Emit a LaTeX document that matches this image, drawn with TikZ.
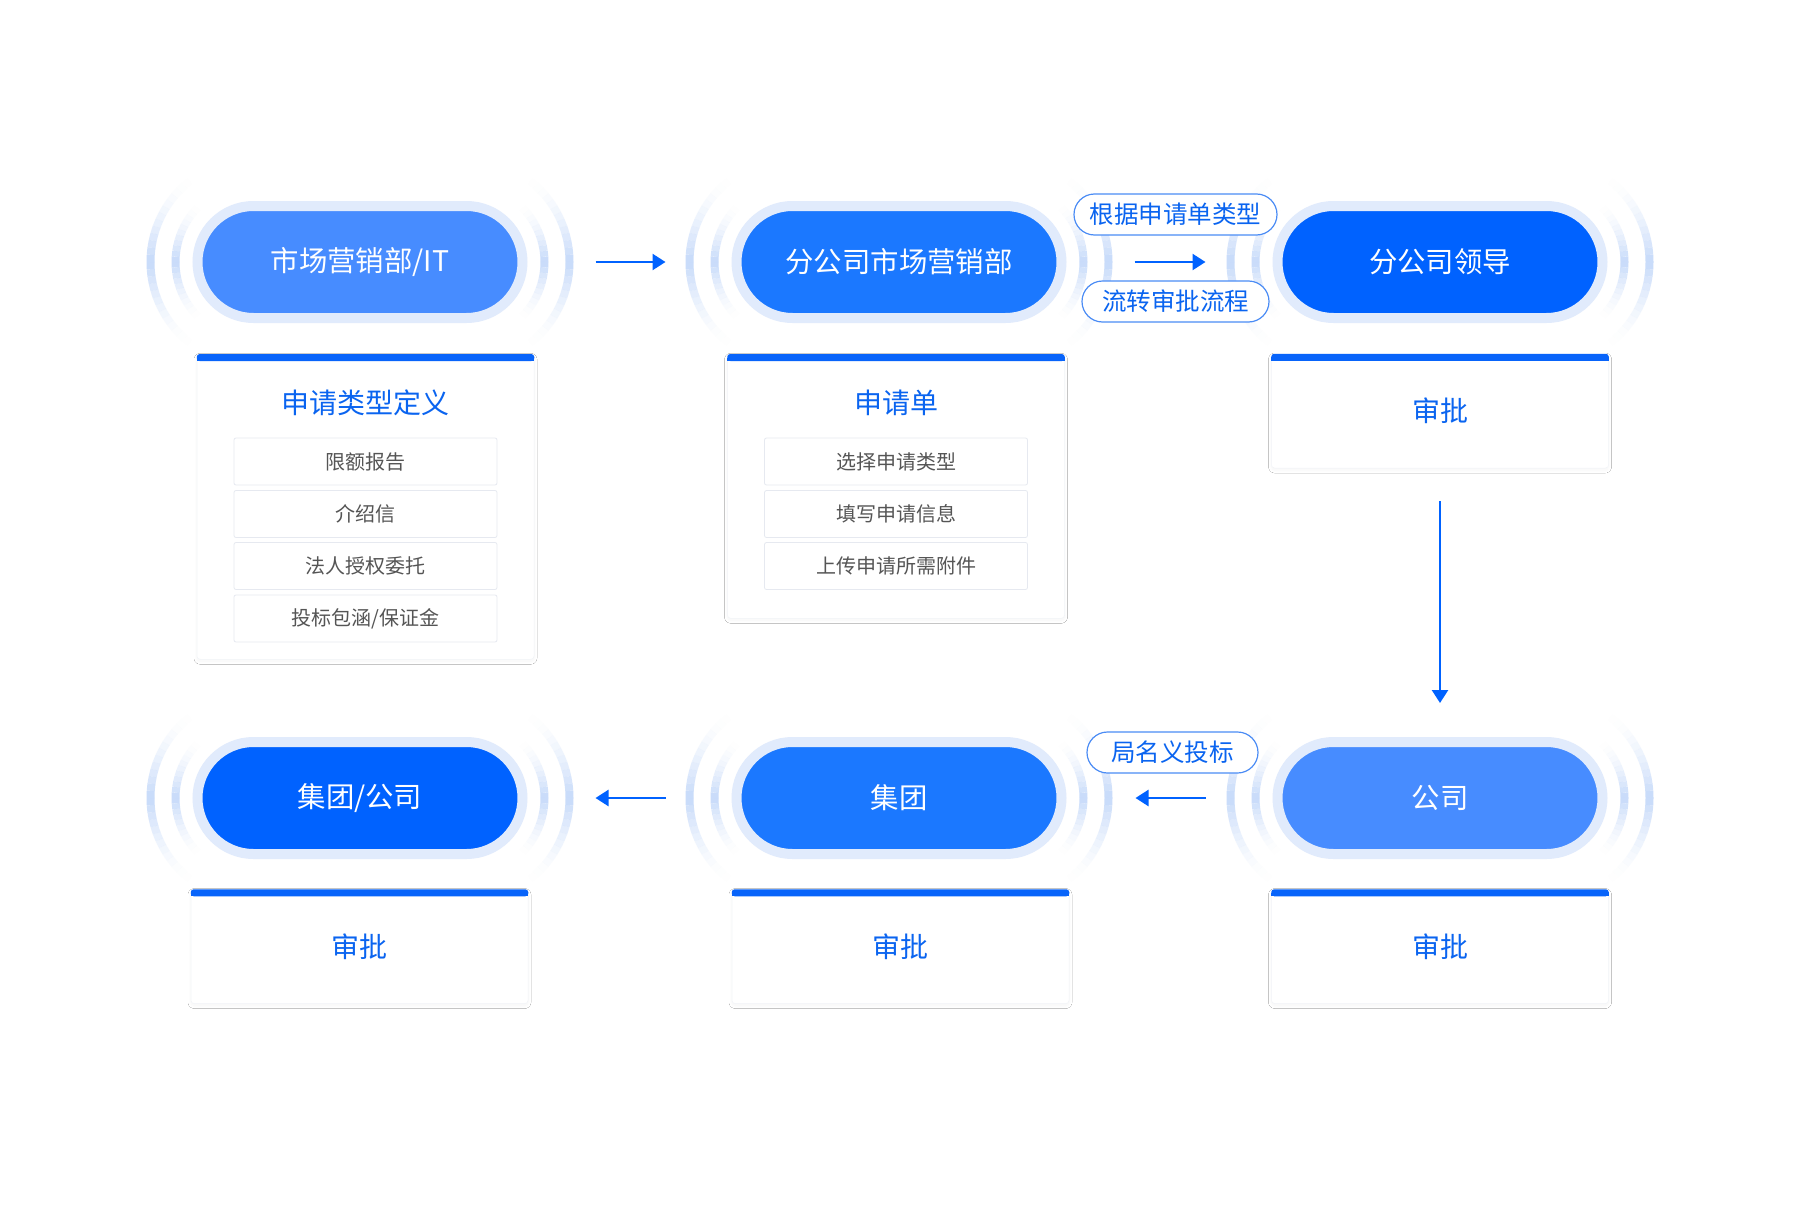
\documentclass[tikz,border=0pt]{standalone}
\usepackage{fontspec}
\newfontfamily\cjk{Noto Sans CJK SC}
\usepackage{xcolor}
\usepackage{tikz}
\usetikzlibrary{arrows.meta,calc,shadows.blur}
\definecolor{halo}{RGB}{225,235,252}
\definecolor{glowc}{RGB}{198,218,250}
\definecolor{lightpill}{RGB}{71,140,255}
\definecolor{midpill}{RGB}{27,120,255}
\definecolor{darkpill}{RGB}{0,98,255}
\definecolor{barblue}{RGB}{8,100,250}
\definecolor{txtblue}{RGB}{10,100,240}
\definecolor{txtgray}{RGB}{85,85,85}
\definecolor{linegray}{RGB}{230,233,240}
\definecolor{tagline}{RGB}{75,140,245}
\newcommand{\pillglow}[1]{%
  \foreach \s/\b in {-1/180,1/0}{%
    \foreach \r/\m in {78/46,103/52}{%
      \foreach \a in {-52,-48,...,48}{%
        \pgfmathsetmacro{\op}{max(0,1-abs(\a+2)/\m)^1.8}%
        \draw[glowc, line width=8pt, opacity=\op]
          ($(#1.center)+(\s*106.5,0)$) ++(\b+\a:\r) arc[start angle=\b+\a, delta angle=4, radius=\r];
      }%
    }%
  }%
}

\begin{document}
\begin{tikzpicture}[x=1pt,y=-1pt,
  pill/.style={rectangle, rounded corners=56pt, minimum width=325pt, minimum height=112pt,
    draw=halo, line width=10pt, text=white, font=\cjk\fontsize{28.4}{33}\selectfont},
  card/.style={rectangle, rounded corners=3pt, fill=white, draw=linegray!50, line width=0.5pt,
    minimum width=337pt, text=txtblue, font=\cjk\fontsize{28}{33}\selectfont,
    blur shadow={shadow xshift=0pt, shadow yshift=-2pt, shadow blur radius=3pt, shadow blur steps=6, shadow opacity=4}},
  cardtitle/.style={text=txtblue, font=\cjk\fontsize{28}{33}\selectfont},
  item/.style={rectangle, rounded corners=2pt, fill=white, draw=linegray, line width=0.8pt,
    minimum width=263pt, minimum height=47pt, text=txtgray, font=\cjk\fontsize{20}{24}\selectfont},
  flowtag/.style={rectangle, rounded corners=20.5pt, fill=white, draw=tagline, line width=1.2pt,
    minimum height=41pt, text=txtblue, font=\cjk\fontsize{24.5}{29}\selectfont},
  flow/.style={draw=darkpill, line width=2.5pt, -{Triangle[length=13pt,width=16pt]}}]
\useasboundingbox[fill=white] (0,0) rectangle (1800,1215);

% top row
\node[pill, fill=lightpill] (p1) at (360,262) {市场营销部/IT};
\node[pill, fill=midpill] (p2) at (899,262) {分公司市场营销部};
\node[pill, fill=darkpill] (p3) at (1440,262) {分公司领导};

% bottom row
\node[pill, fill=darkpill] (p4) at (360,798) {集团/公司};
\node[pill, fill=midpill] (p5) at (899,798) {集团};
\node[pill, fill=lightpill] (p6) at (1440,798) {公司};

\foreach \p in {p1,p2,p3,p4,p5,p6} {\pillglow{\p}}

% cards
\node[card, minimum height=305pt, anchor=north] (c1) at (365.5,354) {};
\node[card, minimum height=264pt, anchor=north] (c2) at (896,354) {};
\node[card, minimum height=114pt] (c3) at (1440,411) {审批};
\node[card, minimum height=114pt] (c4) at (359.5,946.5) {审批};
\node[card, minimum height=114pt] (c5) at (900.5,946.5) {审批};
\node[card, minimum height=114pt] (c6) at (1440,946.5) {审批};
\foreach \i in {1,...,6} {
  \fill[barblue, rounded corners=3pt] (c\i.north west) rectangle ([yshift=-7pt]c\i.north east);
  \fill[barblue] ([yshift=-3.5pt]c\i.north west) rectangle ([yshift=-7pt]c\i.north east);
}

\node[cardtitle] (t1) at (365.5,403) {申请类型定义};
\node[item] (i1a) at (365.5,461.5) {限额报告};
\node[item] (i1b) at (365.5,514) {介绍信};
\node[item] (i1c) at (365.5,566) {法人授权委托};
\node[item] (i1d) at (365.5,618.5) {投标包涵/保证金};

\node[cardtitle] (t2) at (896,403) {申请单};
\node[item] (i2a) at (896,461.5) {选择申请类型};
\node[item] (i2b) at (896,514) {填写申请信息};
\node[item] (i2c) at (896,566) {上传申请所需附件};

% flow
\draw[flow, shorten <=68pt, shorten >=66pt] (p1) -- (p2);
\draw[flow, shorten <=68pt, shorten >=67pt] (p2) -- (p3);
\draw[flow, shorten <=33pt, shorten >=34pt] (c3) -- (p6);
\draw[flow, shorten <=67pt, shorten >=69pt] (p6) -- (p5);
\draw[flow, shorten <=66pt, shorten >=68pt] (p5) -- (p4);

\node[flowtag, minimum width=203pt] (l1) at (1175.5,214.5) {根据申请单类型};
\node[flowtag, minimum width=187pt] (l2) at (1175.5,301.5) {流转审批流程};
\node[flowtag, minimum width=171pt] (l3) at (1172.5,752.5) {局名义投标};
\end{tikzpicture}
\end{document}
